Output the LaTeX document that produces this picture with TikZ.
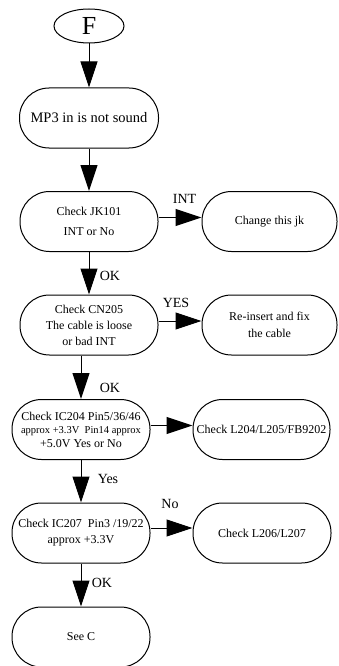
\documentclass[tikz,border=0pt]{standalone}
\usepackage{fontspec}
\setmainfont{Liberation Serif}
\usetikzlibrary{arrows.meta,shapes.geometric,calc}
\newcommand{\fsz}[2]{\fontsize{#1}{#2}\selectfont}
\begin{document}
\begin{tikzpicture}[x=1pt,y=-1pt,
  stad/.style={draw, line width=1pt, rectangle, rounded corners=29.5pt,
    minimum width=138pt, minimum height=60pt, inner sep=0pt, align=center,
    font=\fsz{12}{14}},
  arr/.style={line width=1pt, -{Triangle[length=26pt,width=17pt]}},
  lab/.style={inner sep=0pt, font=\fsz{14}{16}}]
\useasboundingbox (0,0) rectangle (338,666);
% nodes
\node[draw, ellipse, line width=1pt, minimum width=70pt, minimum height=34pt,
  inner sep=0pt, font=\fsz{26}{28}] (f) at (89,26) {F};
\node[stad, minimum width=139pt, font=\fsz{14.5}{16}] (mp3) at (89,118) {MP3 in is not sound};
\node[stad] (jk) at (89,221.5) {Check JK101\\[6pt]INT or No};
\node[stad, minimum width=135pt] (chg) at (269.5,221.5) {Change this jk};
\node[stad] (cn) at (89,325) {Check CN205\\[2pt]The cable is loose\\[2pt]or bad INT};
\node[stad, minimum width=135pt] (rei) at (269.5,325) {Re-insert and fix\\[3pt]the cable};
\node[stad, font=\fsz{12}{13.5}] (ic4) at (81,429.5)
  {Check IC204 Pin5/36/46\\{\fsz{10.5}{13.5}approx +3.3V\ \ Pin14 approx}\\+5.0V Yes or No};
\node[stad, minimum width=137pt] (ic4r) at (261.5,429.5) {Check L204/L205/FB9202};
\node[stad] (ic7) at (81,533) {Check IC207\ \ Pin3 /19/22\\[2pt]approx +3.3V};
\node[stad] (ic7r) at (262,533) {Check L206/L207};
\node[stad] (seec) at (81,637) {See C};
% labels
\node[lab] (lint) at (184.5,199) {INT};
\node[lab] (lok1) at (110,275.5) {OK};
\node[lab] (lyes1) at (176,302.5) {YES};
\node[lab] (lok2) at (110,388) {OK};
\node[lab] (lyes2) at (108,479) {Yes};
\node[lab] (lno) at (170,504) {No};
\node[lab] (lok3) at (102,583) {OK};
% connectors
\draw[arr] (f) -- (mp3);
\draw[arr] (mp3) -- (jk);
\draw[arr] ([yshift=4pt]jk.east) -- ([yshift=4pt]chg.west);
\draw[arr] (jk) -- (cn);
\draw[arr] ([yshift=4pt]cn.east) -- ([yshift=4pt]rei.west);
\draw[arr] (ic4.north |- cn.south) -- (ic4.north);
\draw[arr] ([yshift=4pt]ic4.east) -- ([yshift=4pt]ic4r.west);
\draw[arr] (ic4) -- (ic7);
\draw[arr] ([yshift=5pt]ic7.east) -- ([yshift=5pt]ic7r.west);
\draw[arr] (ic7) -- (seec);
\end{tikzpicture}
\end{document}
